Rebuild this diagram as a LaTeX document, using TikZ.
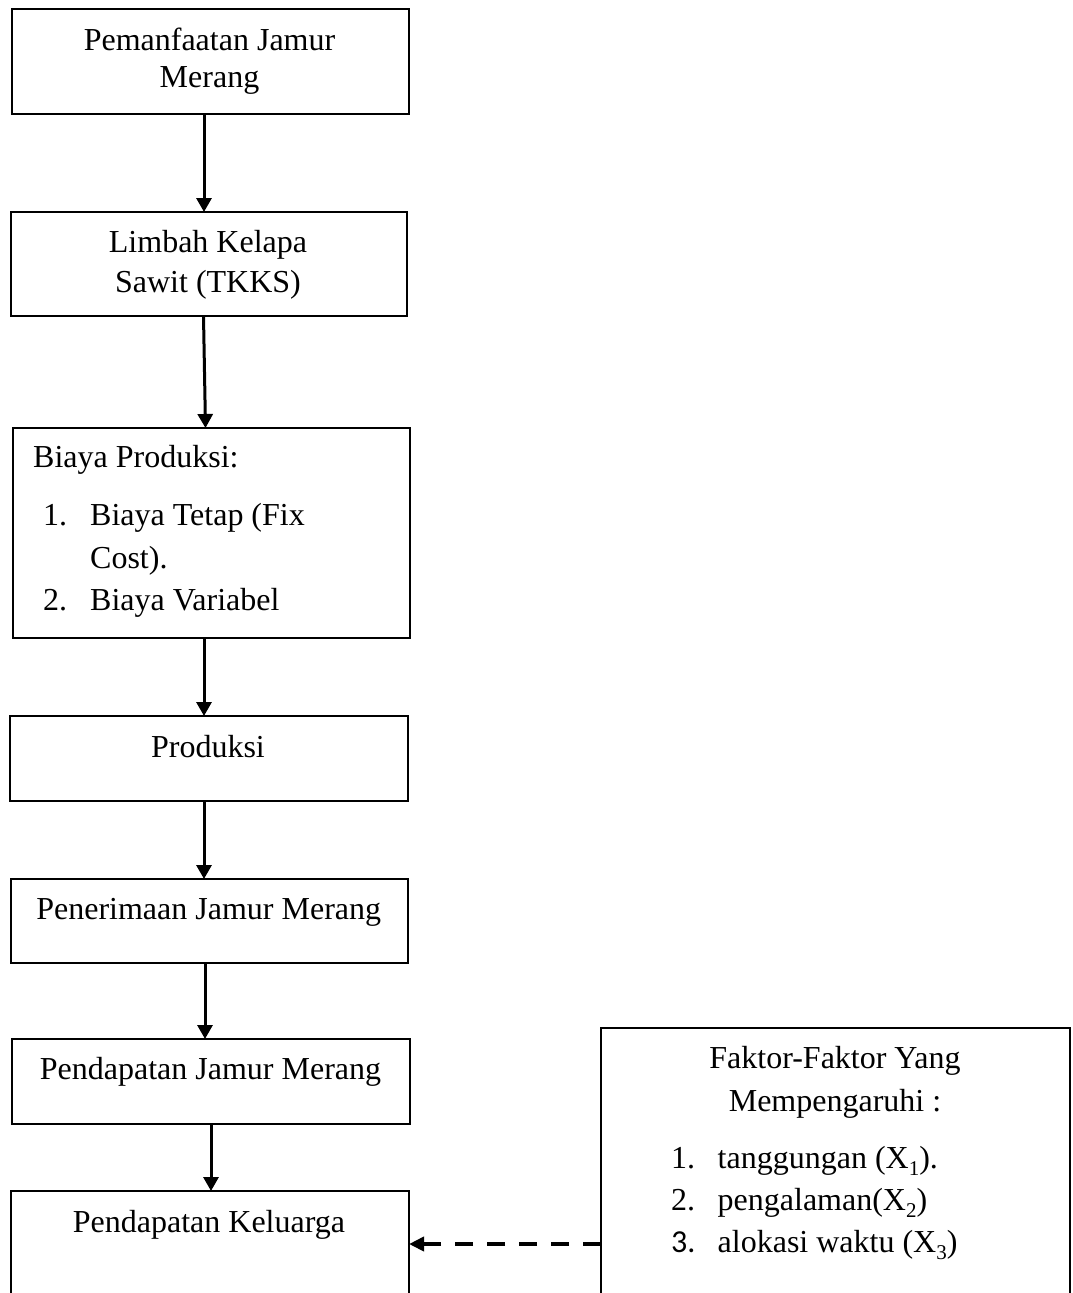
\documentclass[tikz,border=0pt]{standalone}
\usepackage{fontspec}
\setmainfont{Liberation Serif}
\newfontfamily\calibfont{Carlito}
\usetikzlibrary{arrows.meta}
\newcommand\mysub[1]{\raisebox{-0.22em}{\fontsize{21}{21}\selectfont #1}}
\begin{document}
\begin{tikzpicture}[x=1pt,y=-1pt,
  box/.style={draw, line width=1.8pt, rectangle, inner sep=0pt, outer sep=0pt},
  txt/.style={anchor=base, inner sep=0pt, font=\fontsize{32}{37}\selectfont},
  ltxt/.style={anchor=base west, inner sep=0pt, font=\fontsize{32}{37}\selectfont},
  arr/.style={line width=3pt, -{Triangle[length=14pt,width=15pt]}},
  darr/.style={line width=4pt, dash pattern=on 18pt off 14pt, -{Triangle[length=15pt,width=14pt]}}]
\useasboundingbox (0,0) rectangle (1072,1293);
\clip (0,0) rectangle (1072,1293);
\fill[white] (0,0) rectangle (1072,1293);

% boxes
\node[box, minimum width=397pt, minimum height=105pt] (b1) at (210.5,61.5) {};
\node[box, minimum width=396pt, minimum height=104pt] (b2) at (209,264) {};
\node[box, minimum width=397pt, minimum height=210pt] (b3) at (211.5,533) {};
\node[box, minimum width=398pt, minimum height=85pt] (b4) at (209,758.5) {};
\node[box, minimum width=397pt, minimum height=84pt] (b5) at (209.5,921) {};
\node[box, minimum width=398pt, minimum height=85pt] (b6) at (211,1081.5) {};
\node[box, minimum width=398pt, minimum height=149pt] (b7) at (210,1265.5) {};
\node[box, minimum width=469pt, minimum height=312pt] (b8) at (835.5,1184) {};

% texts
\node[txt] (t1a) at (209.5,50) {Pemanfaatan Jamur};
\node[txt] (t1b) at (209.5,87) {Merang};
\node[txt] (t2a) at (208,252) {Limbah Kelapa};
\node[txt] (t2b) at (208,292) {Sawit (TKKS)};
\node[ltxt] (t3) at (33,467) {Biaya Produksi:};
\node[ltxt] (t3n1) at (43,525) {1.};
\node[ltxt] (t3i1) at (90,525) {Biaya Tetap (Fix};
\node[ltxt] (t3i1b) at (90,568) {Cost).};
\node[ltxt] (t3n2) at (43,610) {2.};
\node[ltxt] (t3i2) at (90,610) {Biaya Variabel};
\node[txt] (t4) at (208,757) {Produksi};
\node[txt] (t5) at (208.7,919) {Penerimaan Jamur Merang};
\node[txt] (t6) at (210.5,1079) {Pendapatan Jamur Merang};
\node[txt] (t7) at (209,1232) {Pendapatan Keluarga};
\node[txt] (t8a) at (835,1068) {Faktor-Faktor Yang};
\node[txt] (t8b) at (835,1111) {Mempengaruhi :};
\node[ltxt] (t8n1) at (671,1168) {1.};
\node[ltxt] (t8i1) at (717.5,1168) {tanggungan (X\mysub{1}).};
\node[ltxt] (t8n2) at (671,1210) {2.};
\node[ltxt] (t8i2) at (717.5,1210) {pengalaman(X\mysub{2})};
\node[ltxt] (t8n3) at (671,1252) {\calibfont 3.};
\node[ltxt] (t8i3) at (717.5,1252) {alokasi waktu (X\mysub{3})};

% connectors
\draw[arr] ([xshift=-6.5pt]b1.south) -- ([xshift=-5pt]b2.north);
\draw[arr] ([xshift=-5.5pt]b2.south) -- ([xshift=-6pt]b3.north);
\draw[arr] ([xshift=-7.5pt]b3.south) -- ([xshift=-5pt]b4.north);
\draw[arr] ([xshift=-5pt]b4.south) -- ([xshift=-5.5pt]b5.north);
\draw[arr] ([xshift=-4.5pt]b5.south) -- ([xshift=-6pt]b6.north);
\draw[arr] ([xshift=0pt]b6.south) -- ([xshift=1pt]b7.north);
\draw[darr] ([yshift=-60pt]b8.west) -- ([yshift=21.5pt]b7.east);
\end{tikzpicture}
\end{document}
